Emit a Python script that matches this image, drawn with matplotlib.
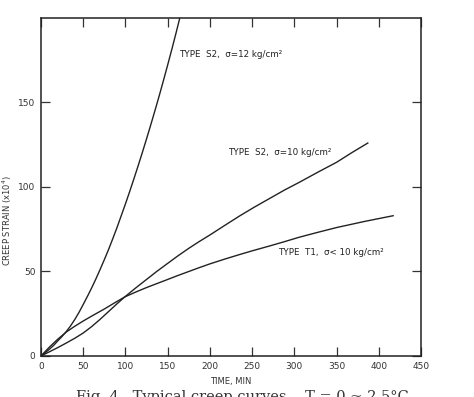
import matplotlib
matplotlib.use("Agg")
from matplotlib import pyplot as plt

# values (time in min, creep strain x10^4)
t_s2_12 = [0, 5, 10, 15, 20, 25, 30, 35, 40, 45, 50, 55, 60, 65, 70, 75, 80, 85,
           90, 95, 100, 105, 110, 115, 120, 125, 130, 135, 140, 145, 150, 155,
           160, 165, 170]
e_s2_12 = [0, 2, 4, 6.3, 9, 11.6, 14.5, 17.8, 21.6, 25.8, 30.5, 35.3, 40.3, 45.6,
           51.2, 57, 63, 69.4, 76, 83, 90, 97.3, 104.8, 112.5, 120.4, 128.5, 136.8,
           145.3, 154, 163, 172.2, 181.6, 191.3, 201.3, 211.5]

t_s2_10 = [0, 10, 20, 30, 40, 50, 60, 70, 80, 90, 100, 112, 125, 137, 150, 162,
           175, 187, 200, 218, 235, 252, 270, 288, 306, 328, 350, 368, 387]
e_s2_10 = [0, 2.5, 5, 7.7, 10.5, 13.6, 17.4, 21.7, 26.3, 30.9, 35.3, 40.2, 45.3,
           50, 54.8, 59.2, 63.7, 67.6, 71.6, 77.4, 82.8, 87.9, 93, 98.1, 102.8,
           108.8, 114.6, 120.3, 126]

t_t1 = [0, 10, 20, 30, 40, 50, 60, 75, 87, 99, 112, 125, 137, 148, 162, 175, 187,
        200, 218, 235, 252, 270, 288, 306, 328, 350, 383, 417]
e_t1 = [0, 5.3, 10, 14.2, 17.6, 20.7, 23.6, 27.8, 31.4, 34.9, 37.8, 40.5, 42.8,
        44.9, 47.6, 50, 52.2, 54.5, 57.4, 60, 62.5, 65, 67.6, 70.3, 73.2, 76,
        79.6, 83]

x_ticks = [0, 50, 100, 150, 200, 250, 300, 350, 400, 450]
y_ticks = [0, 50, 100, 150]

fig = plt.figure(figsize=(4.74, 3.97), dpi=100)
ax = fig.add_axes([0.0865, 0.1033, 0.8017, 0.8514])

lc = "#222222"
ax.plot(t_s2_12, e_s2_12, color=lc, lw=1.0)
ax.plot(t_s2_10, e_s2_10, color=lc, lw=1.0)
ax.plot(t_t1, e_t1, color=lc, lw=1.0)

ax.set_xlim(0, 450)
ax.set_ylim(0, 200)
ax.set_xticks(x_ticks)
ax.set_yticks(y_ticks)
ax.tick_params(direction="in", length=6.5, width=0.9, top=True, right=True,
               labelsize=6.5, colors="#333333", pad=4)
for s in ax.spines.values():
    s.set_linewidth(1.1)
    s.set_color("#222222")

fs = 6.3
ax.text(164, 178.5, "TYPE  S2,  σ=12 kg/cm²", fontsize=fs, va="center", color="#222222")
ax.text(222, 120.6, "TYPE  S2,  σ=10 kg/cm²", fontsize=fs, va="center", color="#222222")
ax.text(281, 61, "TYPE  T1,  σ< 10 kg/cm²", fontsize=fs, va="center", color="#222222")

ax.set_xlabel("TIME, MIN", fontsize=6, color="#333333", labelpad=5)
ax.set_ylabel("CREEP STRAIN (x10$^4$)", fontsize=6, color="#333333")
ax.yaxis.set_label_coords(-0.072, 0.40)

# caption, mostly cut off at the bottom edge as in the scan
fig.text(0.16, 1 - 390 / 397, "Fig. 4   Typical creep curves,   T = 0 ~ 2.5°C",
         fontsize=10.5, family="DejaVu Serif", va="top", color="#333333")

fig.savefig("out.png", dpi=100)
